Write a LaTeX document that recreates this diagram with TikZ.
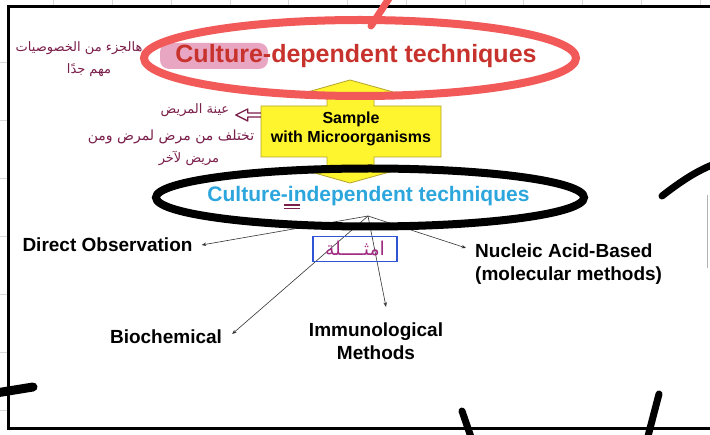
\documentclass[tikz,border=0pt]{standalone}
\usepackage{fontspec}
\setmainfont{Liberation Sans}
\newfontfamily\arabicfont[Script=Arabic]{DejaVu Sans}
\TeXXeTstate=1
\usetikzlibrary{arrows.meta}

\definecolor{slidered}{HTML}{C8322C}
\definecolor{markred}{HTML}{F25A5A}
\definecolor{hlpink}{HTML}{E8A6C2}
\definecolor{skyblue}{HTML}{2CA6DC}
\definecolor{inkmaroon}{HTML}{7A1E4A}
\definecolor{inkpurple}{HTML}{A02C82}
\definecolor{arrowyellow}{HTML}{FFF52E}
\definecolor{arrowedge}{HTML}{B5A32A}
\definecolor{boxblue}{HTML}{2F55D4}
\definecolor{gridgray}{HTML}{D8D8D8}

\begin{document}
\begin{tikzpicture}[x=1pt,y=-1pt,
  labeltxt/.style={font=\bfseries\fontsize{19}{23}\selectfont, inner sep=0pt, text=black},
  conn/.style={draw=black!80, line width=0.6pt, -{Stealth[length=4.5pt,width=3.5pt]}},
  marker/.style={line width=7pt, line cap=round, line join=round},
  ink/.style={text=inkmaroon, font=\arabicfont\fontsize{13}{15}\selectfont, inner sep=0pt},
]
\useasboundingbox (0,0) rectangle (710,435);
\fill[white] (0,0) rectangle (710,435);

% faint sheet grid outside the slide
\foreach \gx in {53,112,171,230,288,347,406,465,523,582,641,700}
  \draw[gridgray, line width=0.6pt] (\gx,0) -- (\gx,5.5);
\foreach \gy in {62,120,178,236,294,352,410}
  \draw[gridgray, line width=0.6pt] (0,\gy) -- (6.5,\gy);
\draw[gray!60, line width=0.8pt] (707,195) -- (707,268);

% slide frame
\draw[black, line width=3pt] (712,7) -- (8,7) -- (8,429) -- (712,429);

% title with highlighter mark
\fill[hlpink, rounded corners=9pt] (160,43) rectangle (268,69);
\node[font=\bfseries\fontsize{25}{28}\selectfont, text=slidered, inner sep=0pt]
  (dep) at (356,56) {Culture-dependent techniques};

% yellow up-down arrow callout
\draw[fill=arrowyellow, draw=arrowedge, line width=0.8pt, line join=miter]
  (261,106) -- (327,106) -- (327,95) -- (297,95) -- (350,80) -- (404,95)
  -- (374,95) -- (374,106) -- (441,106) -- (441,157) -- (374,157) -- (374,168)
  -- (404,168) -- (350,183) -- (297,168) -- (327,168) -- (327,157) -- (261,157) -- cycle;
\node[font=\bfseries\fontsize{16}{19}\selectfont, align=center, inner sep=0pt,
  minimum width=180pt, minimum height=51pt] (sample) at (351,129)
  {Sample\\with Microorganisms};

% red marker ellipse and stroke
\draw[markred, line width=8pt] (360,58) ellipse [x radius=216pt, y radius=38pt];
\draw[markred, marker] (371,26) -- (390,-3);

% second heading and its branches
\node[font=\bfseries\fontsize{21}{24}\selectfont, text=skyblue, inner sep=0pt]
  (indep) at (368.5,196) {Culture-independent techniques};
\coordinate (hub) at (368,216);

\node[labeltxt] (direct) at (107.5,245) {Direct Observation};
\node[labeltxt, align=left, anchor=west] (nucleic) at (475,264.5)
  {Nucleic Acid-Based\\(molecular methods)};
\node[labeltxt] (biochem) at (166,337) {Biochemical};
\node[labeltxt, align=center] (immuno) at (376,341.5) {Immunological\\Methods};

\draw[conn] (hub) -- ([xshift=9pt]direct.east);
\draw[conn] (hub) -- ([shift={(-9pt,-4pt)}]nucleic.north west);
\draw[conn] (hub) -- ([shift={(10pt,3pt)}]biochem.east);
\draw[conn] (hub) -- ([shift={(10pt,16pt)}]immuno.north);

% black marker ellipse
\draw[black, line width=8pt] (370,197.5) ellipse [x radius=214pt, y radius=29pt];

% double underline under "in"
\draw[inkmaroon, line width=1.1pt] (284,205) -- (300,205) (284,208.5) -- (300,208.5);

% boxed note
\node[draw=boxblue, line width=1.2pt, minimum width=84pt, minimum height=25pt,
  inner sep=0pt, text=inkpurple, font=\arabicfont\fontsize{19}{20}\selectfont]
  (examples) at (355,249) {\beginR امثــــلة\endR};

% handwritten notes
\node[ink] (noteA) at (79,48) {\beginR هالجزء من الخصوصيات\endR};
\node[ink] (noteB) at (89,70) {\beginR مهم جدًا\endR};
\node[ink] (noteC) at (195,110) {\beginR عينة المريض\endR};
\node[ink, font=\arabicfont\fontsize{14}{16}\selectfont] (noteD) at (171,137) {\beginR تختلف من مرض لمرض ومن\endR};
\node[ink] (noteE) at (189,158) {\beginR مريض لآخر\endR};
% hollow arrow from the sample box to its note
\draw[inkmaroon, line width=1.3pt, line join=round]
  ([yshift=16pt]sample.west) -- ++(-13,0) -- ++(0,-4) -- ++(-12,6)
  -- ++(12,6) -- ++(0,-4) -- ++(13,0);

% black marker strokes
\draw[marker] (662,196) .. controls (680,182) and (695,172) .. (712,165);
\draw[marker, line width=9pt] (-4,393) -- (33,387);
\draw[marker] (462,411) -- (472,440);
\draw[marker] (659,394) -- (647,440);
\end{tikzpicture}
\end{document}
